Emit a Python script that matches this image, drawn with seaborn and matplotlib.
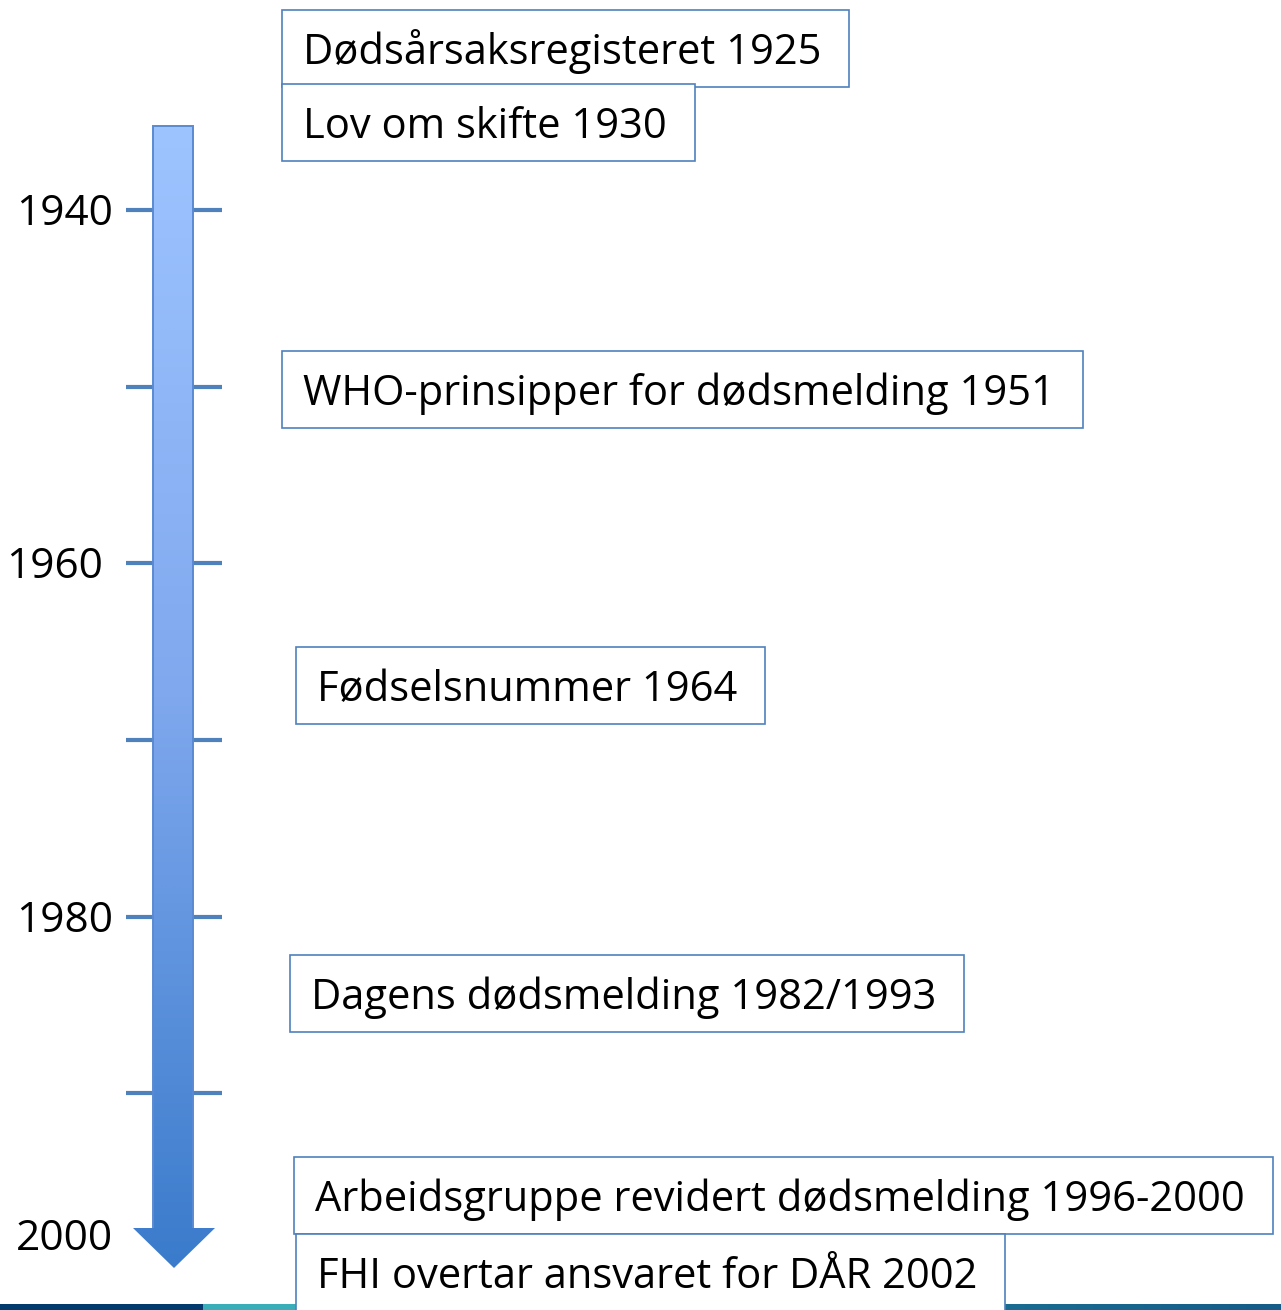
import numpy as np
import matplotlib
matplotlib.use("Agg")
import matplotlib.pyplot as plt
import seaborn as sns
from matplotlib.patches import Rectangle, Polygon
from matplotlib.colors import LinearSegmentedColormap

# ---------------- data ----------------
events = [
    "Dødsårsaksregisteret 1925",
    "Lov om skifte 1930",
    "WHO-prinsipper for dødsmelding 1951",
    "Fødselsnummer 1964",
    "Dagens dødsmelding 1982/1993",
    "Arbeidsgruppe revidert dødsmelding 1996-2000",
    "FHI overtar ansvaret for DÅR 2002",
]
tick_years = [1940, 1950, 1960, 1970, 1980, 1990]
year_labels = ["1940", "1960", "1980", "2000"]

# ---------------- layout (positions in year units / pixels) ----------------
event_slot = [1930.87, 1935.06, 1950.18, 1966.94, 1984.38, 1995.82, 2000.18]
event_left = [282, 282, 282, 296, 290, 294, 296]
label_slot = [1940, 1960, 1980, 1998.05]
label_right = [113, 103, 113, 113]

sns.set_theme(style="white")
plt.rcParams['font.family'] = ['Open Sans', 'DejaVu Sans']

W, H = 1281, 1310
PX_PER_YEAR = 17.66
Y0_PX = 210.2
FS_BOX = 30
FS_LAB = 30.5
BASE_OFF = 15 / PX_PER_YEAR   # baseline offset below visual centre


def px2yr(p):
    return 1940 + (p - Y0_PX) / PX_PER_YEAR


fig = plt.figure(figsize=(W / 100, H / 100), dpi=100)
ax = fig.add_axes([0, 0, 1, 1])
ax.axis('off')

BLUE = '#4F81BD'

# tick segments
ax.hlines(tick_years, 126, 222, colors=BLUE, lw=3.0, zorder=1)

# arrow shaft + head with vertical gradient
top = px2yr(126)
base = px2yr(1228)
tip = px2yr(1268)
arrow_pts = [(153, top), (193, top), (193, base), (215, base), (174, tip),
             (133, base), (153, base)]
arrow = Polygon(arrow_pts, closed=True, facecolor='none', edgecolor='none')
ax.add_patch(arrow)
cmap = LinearSegmentedColormap.from_list('arr', ['#9EC4FF', '#7FA8EE', '#3A7BCB'])
grad = np.linspace(0, 1, 512).reshape(-1, 1)
im = ax.imshow(grad, extent=[133, 215, tip, top], cmap=cmap, aspect='auto',
               origin='upper', zorder=2, interpolation='bilinear')
im.set_clip_path(arrow)
shaft_outline = Polygon([(153, base), (153, top), (193, top), (193, base)],
                        closed=False, fill=False, edgecolor='#5A8AD2', lw=1.4, zorder=2.5)
ax.add_patch(shaft_outline)

# year labels
for lab, ys, xr in zip(year_labels, label_slot, label_right):
    ax.text(xr, ys + BASE_OFF, lab, ha='right', va='baseline', fontsize=FS_LAB,
            color='black', zorder=3)

# bottom strip
s_top = px2yr(1304)
s_bot = px2yr(1312)
ax.add_patch(Rectangle((0, s_top), 203, s_bot - s_top, facecolor='#033A6E', edgecolor='none', zorder=1))
ax.add_patch(Rectangle((203, s_top), 500, s_bot - s_top, facecolor='#3AAEB8', edgecolor='none', zorder=1))
cmap2 = LinearSegmentedColormap.from_list('strip', ['#1F7E9E', '#155C88'])
ax.imshow(np.linspace(0, 1, 256).reshape(1, -1), extent=[700, W, s_bot, s_top],
          cmap=cmap2, aspect='auto', zorder=1)

ax.set_xlim(0, W)
ax.set_ylim(px2yr(H), px2yr(0))

# event boxes
box_h = 77 / PX_PER_YEAR
texts = []
for i, (ev, ys, xl) in enumerate(zip(events, event_slot, event_left)):
    t = ax.text(xl + 21, ys + BASE_OFF, ev, ha='left', va='baseline', fontsize=FS_BOX,
                color='black', zorder=10 + 2 * i + 1)
    texts.append(t)

fig.canvas.draw()
renderer = fig.canvas.get_renderer()
inv = ax.transData.inverted()
for i, (t, ys, xl) in enumerate(zip(texts, event_slot, event_left)):
    bb = t.get_window_extent(renderer)
    x_right = inv.transform((bb.x1, bb.y0))[0]
    width = min(x_right - xl + 28, W - 1 - xl)
    ax.add_patch(Rectangle((xl, ys - box_h / 2), width, box_h, facecolor='white',
                           edgecolor=BLUE, lw=1.2, zorder=10 + 2 * i))

ax.set_xlim(0, W)
ax.set_ylim(px2yr(H), px2yr(0))
fig.savefig('out.png', dpi=100)
